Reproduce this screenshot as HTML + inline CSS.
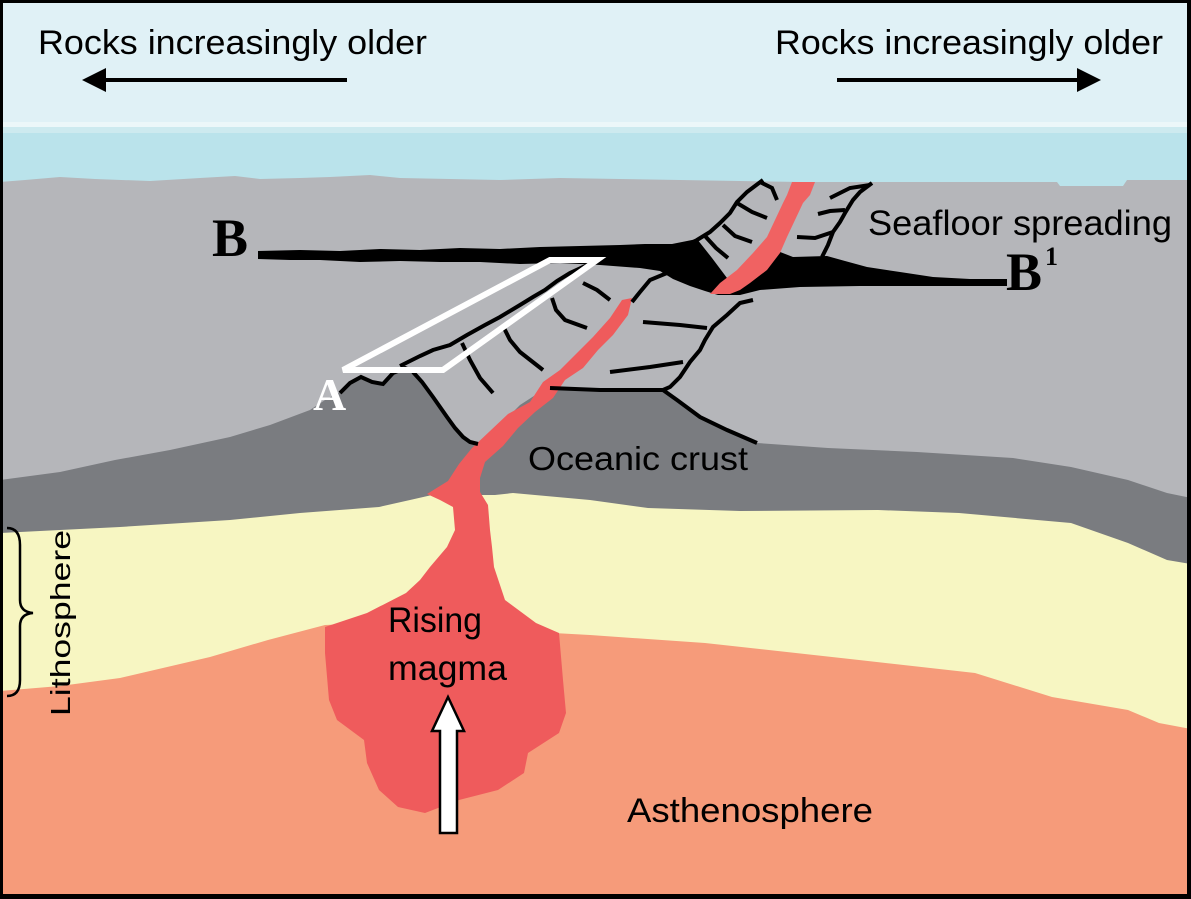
<!DOCTYPE html>
<html><head><meta charset="utf-8">
<style>
html,body{margin:0;padding:0;background:#000;}
svg{display:block;}
text{font-family:"Liberation Sans",sans-serif;fill:#000;}
.serif{font-family:"Liberation Serif",serif;font-weight:bold;}
</style></head><body>
<svg width="1191" height="899" viewBox="0 0 1191 899" xmlns="http://www.w3.org/2000/svg">
<defs><clipPath id="c"><rect x="3" y="3" width="1184" height="891"/></clipPath></defs>
<rect width="1191" height="899" fill="#000"/>
<g clip-path="url(#c)">
  <!-- sky & water -->
  <rect x="0" y="0" width="1191" height="210" fill="#e0f1f6"/>
  <rect x="0" y="122" width="1191" height="5" fill="#ecf7f9"/>
  <rect x="0" y="127" width="1191" height="6" fill="#cdeaef"/>
  <rect x="0" y="133" width="1191" height="70" fill="#bae3eb"/>

  <!-- light gray seafloor -->
  <polygon fill="#b5b6ba" points="0,182 25,180 60,177 95,179 150,181 200,178 235,176 260,179 300,178 330,177 370,175 400,178 450,179 500,180 560,178 620,179 680,180 740,181 800,182 880,182 1057,182 1060,186 1123,186 1127,180 1191,180 1191,899 0,899"/>

  <!-- dark gray crust -->
  <polygon fill="#7a7c80" points="0,480 60,472 115,460 170,450 230,437 270,425 310,410 325,400 340,392 352,382 362,377 372,381 383,383 393,373 405,368 415,373 425,385 435,400 447,417 458,432 465,440 472,444 484,444 500,425 520,405 540,392 552,388 600,390 663,390 677,400 700,417 727,430 757,443 828,448 917,452 1013,458 1071,467 1128,480 1167,493 1191,498 1191,899 0,899"/>

  <!-- yellow lithosphere mantle -->
  <polygon fill="#f7f6c2" points="0,533 40,531 120,527 230,520 300,513 379,507 410,500 432,495 455,495 495,495 513,493 590,500 648,508 740,511 878,510 959,513 1071,523 1128,543 1167,560 1191,564 1191,899 0,899"/>

  <!-- orange asthenosphere -->
  <polygon fill="#f69b7a" points="0,691 60,686 120,678 210,657 268,640 325,625 400,622 500,630 590,635 705,643 859,660 975,673 1052,697 1128,710 1159,723 1191,729 1191,899 0,899"/>

  <!-- magma blob + lower dike -->
  <polygon fill="#ef5b5c" points="622,300 632,298 628,315 613,335 598,350 583,368 565,380 553,398 535,412 518,428 503,446 485,462 480,478 480,492 488,505 490,530 492,547 494,567 505,600 536,623 559,633 563,680 566,713 559,733 528,753 524,773 498,790 459,800 425,813 398,807 379,790 367,763 364,740 337,720 329,700 325,653 325,627 367,613 406,593 420,580 430,567 447,547 455,530 453,507 440,500 427,494 448,481 459,464 472,448 490,431 508,414 530,402 543,382 560,370 575,355 593,337 610,318"/>

  <!-- black B-B1 band -->
  <polygon fill="#000" points="258,251 300,250 340,251 380,249 420,250 460,248 500,249 540,247 580,246 620,245 645,244 672,244 697,239 712,258 727,278 745,284 760,268 775,250 793,257 827,256 845,261 867,267 900,272 933,277 970,279 1007,279 1007,286 933,286 860,286 800,287 760,290 740,295 718,295 705,291 690,286 673,279 660,271 640,268 600,265 560,263 520,264 480,262 440,262 400,261 360,262 320,260 290,260 258,259"/>

  <!-- upper dike -->
  <polygon fill="#f06262" points="792,182 815,182 810,195 803,203 787,237 780,253 767,270 750,283 740,290 730,294 710,294 720,283 737,270 753,253 767,237 783,203 787,195"/>

  <!-- cracks -->
  <g fill="none" stroke="#000" stroke-width="4" stroke-linejoin="miter">
    <polyline points="340,393 350,383 361,377 372,382 383,384 393,373 405,368 415,372"/>
    <polyline points="413,372 422,382 433,397 440,407 447,417 455,428 463,437 470,442 478,444"/>
    <polyline points="400,366 420,356 433,350 450,345 467,335 485,325 500,317 520,305 533,297 545,290 557,281 570,273 583,267 597,262"/>
    <polyline points="462,343 470,360 480,378 493,393"/>
    <polyline points="503,326 510,340 520,352 543,370"/>
    <polyline points="552,298 556,310 565,320 587,328"/>
    <polyline points="583,283 597,290 610,300"/>
    <polyline points="667,273 650,280 640,292 632,302"/>
    <polyline points="753,300 740,303 727,315 713,327 705,340 700,350 690,362 680,377 670,387 663,390"/>
    <polyline points="550,388 600,390 663,390 677,400 700,417 727,430 757,443"/>
    <polyline points="643,322 680,325 707,328"/>
    <polyline points="610,372 650,367 683,362"/>
    <polyline points="763,180 747,192 737,202 730,213 720,223 710,232 697,240 683,247"/>
    <polyline points="760,182 772,188 777,200"/>
    <polyline points="737,203 752,212 767,218"/>
    <polyline points="723,225 735,236 752,242"/>
    <polyline points="705,236 716,248 728,258"/>
    <polyline points="872,183 860,192 853,200 845,213 840,222 833,232 828,245 822,257"/>
    <polyline points="870,185 850,188 830,198"/>
    <polyline points="845,210 830,211 818,214"/>
    <polyline points="833,232 815,238 797,237"/>
  </g>

  <!-- white parallelogram -->
  <polygon points="343,370 550,260 597,260 443,370" fill="none" stroke="#fff" stroke-width="6" stroke-linejoin="miter"/>

  <!-- top arrows -->
  <line x1="104" y1="80" x2="347" y2="80" stroke="#000" stroke-width="4"/>
  <polygon points="82,80 106,68 106,92" fill="#000"/>
  <line x1="837" y1="80" x2="1080" y2="80" stroke="#000" stroke-width="4"/>
  <polygon points="1101,80 1077,68 1077,92" fill="#000"/>

  <!-- rising arrow -->
  <polygon points="448,697 464,731 457,731 457,833 440,833 440,731 432,731" fill="#fff" stroke="#000" stroke-width="2.5" stroke-linejoin="miter"/>

  <!-- brace -->
  <path d="M7,528 Q20,528 20,545 L20,600 Q20,612 33,613 Q20,614 20,626 L20,680 Q20,696 7,696" fill="none" stroke="#000" stroke-width="2.5"/>

  <!-- labels -->
  <text x="38" y="54" font-size="34" textLength="389" lengthAdjust="spacingAndGlyphs">Rocks increasingly older</text>
  <text x="775" y="54" font-size="34" textLength="388" lengthAdjust="spacingAndGlyphs">Rocks increasingly older</text>
  <text x="868" y="235" font-size="35" textLength="304" lengthAdjust="spacingAndGlyphs">Seafloor spreading</text>
  <text x="528" y="470" font-size="33" textLength="220" lengthAdjust="spacingAndGlyphs">Oceanic crust</text>
  <text x="388" y="632" font-size="35" textLength="94" lengthAdjust="spacingAndGlyphs">Rising</text>
  <text x="388" y="680" font-size="35" textLength="119" lengthAdjust="spacingAndGlyphs">magma</text>
  <text x="627" y="822" font-size="34" textLength="246" lengthAdjust="spacingAndGlyphs">Asthenosphere</text>
  <text transform="translate(70,716) rotate(-90)" font-size="28" textLength="186" lengthAdjust="spacingAndGlyphs">Lithosphere</text>

  <text class="serif" x="212" y="256" font-size="54">B</text>
  <text class="serif" x="1006" y="290" font-size="54">B</text>
  <text class="serif" x="1045" y="265" font-size="26">1</text>
  <text class="serif" x="313" y="410" font-size="46" style="fill:#fff">A</text>
</g>
</svg>
</body></html>
